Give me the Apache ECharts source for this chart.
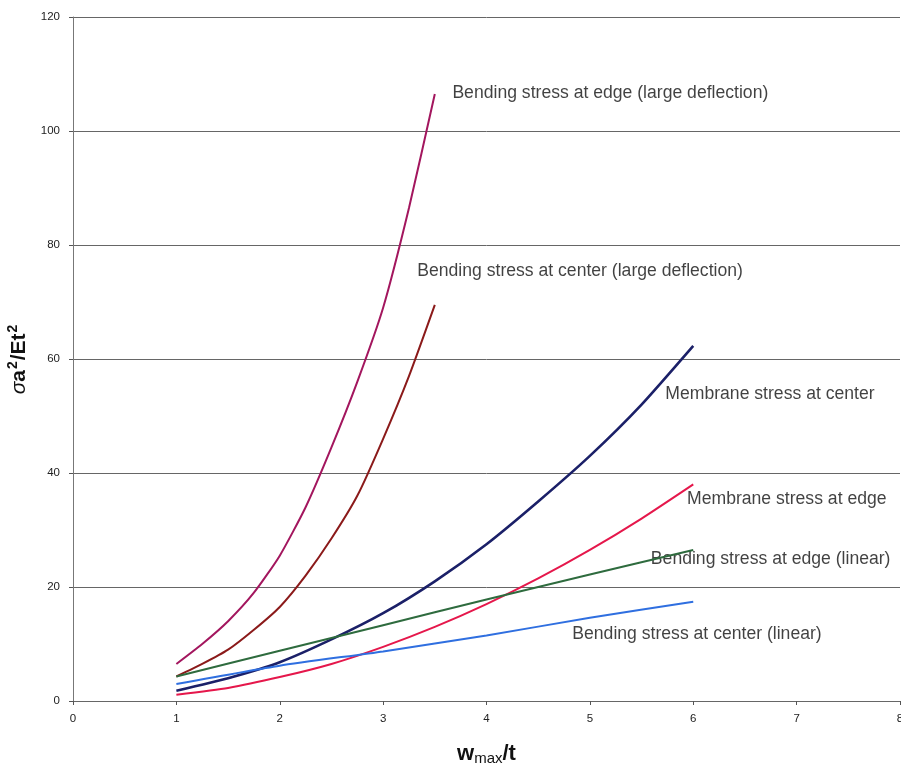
<!DOCTYPE html>
<html>
<head>
<meta charset="utf-8">
<script src="https://cdn.jsdelivr.net/npm/echarts@6/dist/echarts.min.js"></script>
<style>html,body{margin:0;padding:0;background:#fff;}#c{width:901px;height:767px;}</style>
</head>
<body>
<div id="c"></div>
<script>
// x positions
const xLarge = [1.0, 1.25, 1.5, 1.75, 2.0, 2.25, 2.5, 2.75, 3.0, 3.25, 3.5];
const xHalf = [1.0, 1.5, 2.0, 2.5, 3.0, 3.5, 4.0, 4.5, 5.0, 5.5, 6.0];
const xLinear = [1, 2, 3, 4, 5, 6];

// series values
const bendEdgeLarge = [6.5, 10, 14, 19, 25.5, 34, 44.5, 56, 69, 86.5, 106.5];
const bendCenterLarge = [4.3, 6.5, 9, 12.5, 16.5, 22, 28.5, 36, 46, 57, 69.5];
const membraneCenter = [1.8, 4, 6.8, 10.8, 15.4, 21, 27.5, 35, 43, 52, 62.3];
const membraneEdge = [1.1, 2.3, 4.2, 6.5, 9.5, 13, 17, 21.5, 26.5, 32, 38];
const bendEdgeLinear = [4.3, 8.8, 13.3, 17.8, 22.2, 26.5];
const bendCenterLinear = [3.0, 6.2, 8.7, 11.5, 14.6, 17.4];

// annotation labels
const labelTexts = [
  'Bending stress at edge (large deflection)',
  'Bending stress at center (large deflection)',
  'Membrane stress at center',
  'Membrane stress at edge',
  'Bending stress at edge (linear)',
  'Bending stress at center (linear)'
];
const labelX = [3.67, 3.33, 5.73, 5.94, 5.59, 4.83];
const labelY = [106.7, 75.4, 53.9, 35.4, 24.9, 11.75];

const xTicks = [0, 1, 2, 3, 4, 5, 6, 7, 8];
const yTicks = [0, 20, 40, 60, 80, 100, 120];

function pairs(xs, ys) { return xs.map((x, i) => [x, ys[i]]); }

const FONT = 'Liberation Sans, Arial, sans-serif';

const seriesDefs = [
  { name: labelTexts[0], xs: xLarge, ys: bendEdgeLarge, color: '#A3165E', w: 2 },
  { name: labelTexts[1], xs: xLarge, ys: bendCenterLarge, color: '#8B1A1A', w: 2 },
  { name: labelTexts[2], xs: xHalf, ys: membraneCenter, color: '#1B2068', w: 2.6 },
  { name: labelTexts[3], xs: xHalf, ys: membraneEdge, color: '#E5174B', w: 2 },
  { name: labelTexts[4], xs: xLinear, ys: bendEdgeLinear, color: '#2E6B3E', w: 2 },
  { name: labelTexts[5], xs: xLinear, ys: bendCenterLinear, color: '#2F6FE0', w: 2 }
];

const series = seriesDefs.map(d => ({
  type: 'line',
  name: d.name,
  data: pairs(d.xs, d.ys),
  showSymbol: false,
  smooth: 0.2,
  lineStyle: { color: d.color, width: d.w },
  itemStyle: { color: d.color },
  silent: true
}));

series.push({
  type: 'scatter',
  symbolSize: 0,
  silent: true,
  data: labelTexts.map((t, i) => ({ value: [labelX[i], labelY[i]], name: t })),
  label: {
    show: true,
    position: 'right',
    distance: 0,
    formatter: p => p.name,
    color: '#111',
    fontFamily: FONT,
    fontSize: 17.6
  }
});

const chart = echarts.init(document.getElementById('c'), null, { renderer: 'canvas' });
chart.setOption({
  animation: false,
  backgroundColor: '#ffffff',
  grid: { left: 73, right: 1, top: 17, bottom: 66, containLabel: false, outerBoundsMode: 'none' },
  xAxis: {
    type: 'value',
    min: xTicks[0],
    max: xTicks[xTicks.length - 1],
    interval: 1,
    name: '{b|w}{sub|max}{b|/t}',
    nameLocation: 'middle',
    nameGap: 40,
    nameTextStyle: {
      rich: {
        b: { fontFamily: FONT, fontWeight: 'bold', fontSize: 22, color: '#111' },
        sub: { fontFamily: FONT, fontWeight: 'normal', fontSize: 15, color: '#111', padding: [10, 0, 0, 0] }
      }
    },
    axisLine: { show: true, lineStyle: { color: '#666', width: 1 } },
    axisTick: { show: true, length: 4, lineStyle: { color: '#555' } },
    axisLabel: { color: '#222', fontSize: 11.5, margin: 12, fontFamily: FONT },
    splitLine: { show: false }
  },
  yAxis: {
    type: 'value',
    min: yTicks[0],
    max: yTicks[yTicks.length - 1],
    interval: 20,
    name: '{s|σ}{b|a}{sup|2}{b|/Et}{sup|2}',
    nameLocation: 'middle',
    nameGap: 20,
    nameRotate: 90,
    nameTextStyle: {
      rich: {
        s: { fontFamily: FONT, fontStyle: 'italic', fontSize: 21, color: '#111' },
        b: { fontFamily: FONT, fontWeight: 'bold', fontSize: 21, color: '#111' },
        sup: { fontFamily: FONT, fontWeight: 'bold', fontSize: 14, color: '#111', padding: [0, 1, 12, 1] }
      }
    },
    axisLine: { show: true, lineStyle: { color: '#777', width: 1 } },
    axisTick: { show: true, length: 4, lineStyle: { color: '#555' } },
    axisLabel: { color: '#222', fontSize: 11.5, margin: 13, fontFamily: FONT },
    splitLine: { show: true, lineStyle: { color: '#666', width: 1 } }
  },
  series: series
});
</script>
</body>
</html>
